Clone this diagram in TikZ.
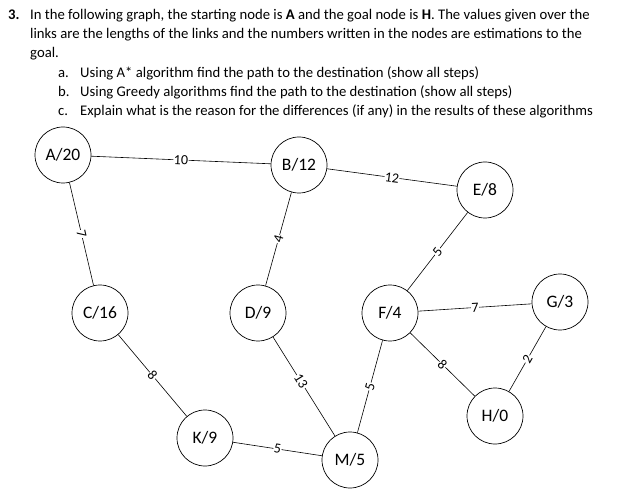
\documentclass[tikz,border=0pt]{standalone}
\usepackage{fontspec}
\setmainfont{Carlito}
\begin{document}
\begin{tikzpicture}[x=1pt,y=-1pt,
  st/.style={circle,draw,line width=0.7pt,minimum size=56pt,inner sep=0pt,font=\fontsize{17.5}{19}\selectfont,fill=white},
  ed/.style={line width=0.6pt},
  lb/.style={fill=white,inner sep=0.5pt,font=\fontsize{14}{15}\selectfont,sloped},
  tx/.style={anchor=base west,inner sep=0,font=\fontsize{14.7}{16}\selectfont}]
\useasboundingbox (0,0) rectangle (622,492);
\node[tx] (t0) at (8,20) {\textbf{3.}};
\node[tx] (t1) at (30,20) {In the following graph, the starting node is \textbf{A} and the goal node is \textbf{H}. The values given over the};
\node[tx] (t2) at (30,39) {links are the lengths of the links and the numbers written in the nodes are estimations to the};
\node[tx] (t3) at (30,58) {goal.};
\node[tx] (t4) at (58,78) {a.};
\node[tx] (t5) at (80,78) {Using A* algorithm find the path to the destination (show all steps)};
\node[tx] (t6) at (58,97) {b.};
\node[tx] (t7) at (80,97) {Using Greedy algorithms find the path to the destination (show all steps)};
\node[tx] (t8) at (58,116) {c.};
\node[tx] (t9) at (80,116) {Explain what is the reason for the differences (if any) in the results of these algorithms};
\node[st] (A) at (63,155) {A/20};
\node[st] (B) at (299,165) {B/12};
\node[st] (E) at (485,190) {E/8};
\node[st] (C) at (100,313) {C/16};
\node[st] (D) at (258,313) {D/9};
\node[st] (F) at (390,313) {F/4};
\node[st] (G) at (560,302) {G/3};
\node[st] (H) at (495,416) {H/0};
\node[st] (K) at (205,438) {K/9};
\node[st] (M) at (350,460) {M/5};
\draw[ed] (A) -- node[lb]{10} (B);
\draw[ed] (B) -- node[lb]{12} (E);
\draw[ed] (A) -- node[lb]{7} (C);
\draw[ed] (B) -- node[lb]{4} (D);
\draw[ed] (E) -- node[lb]{5} (F);
\draw[ed] (F) -- node[lb]{7} (G);
\draw[ed] (D) -- node[lb,pos=0.45]{13} (M);
\draw[ed] (F) -- node[lb]{5} (M);
\draw[ed] (F) -- node[lb]{8} (H);
\draw[ed] (G) -- node[lb]{2} (H);
\draw[ed] (C) -- node[lb]{8} (K);
\draw[ed] (K) -- node[lb]{5} (M);
\end{tikzpicture}
\end{document}
